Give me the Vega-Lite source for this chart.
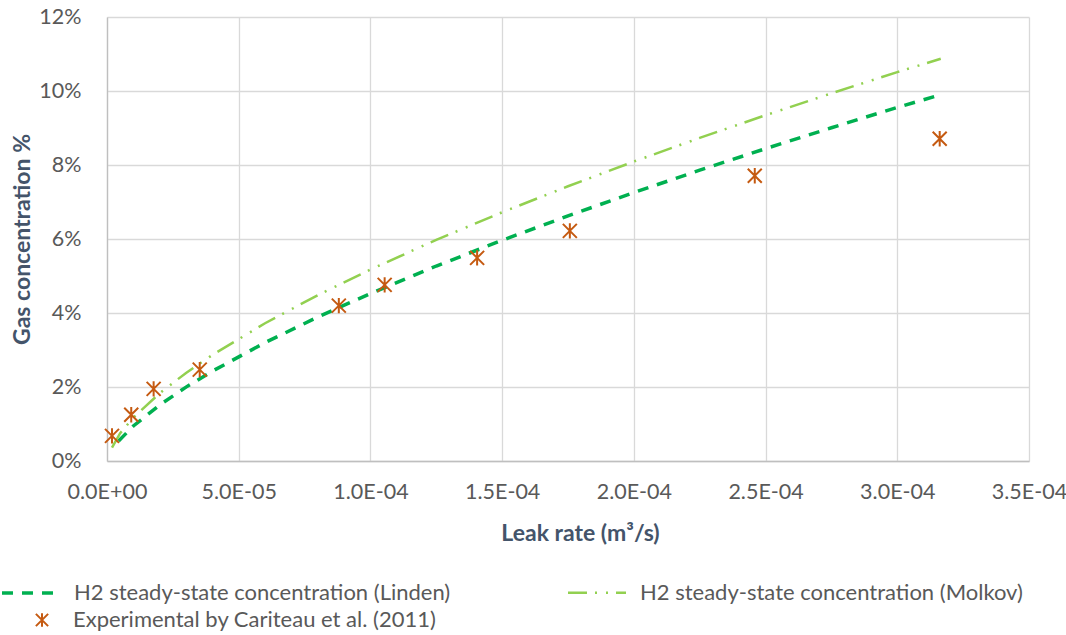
{
  "$schema": "https://vega.github.io/schema/vega-lite/v6.json",
  "width": 922,
  "height": 444,
  "autosize": "none",
  "padding": {"left": 107, "top": 17, "right": 37, "bottom": 174},
  "background": "white",
  "config": {
    "view": {"stroke": null},
    "font": "Lato",
    "axis": {
      "labelFont": "Lato", "labelFontSize": 21.5, "labelColor": "#595959", "labelFlush": false,
      "titleFont": "Lato", "titleFontSize": 23, "titleColor": "#44546A", "titleFontWeight": "bold",
      "gridColor": "#d9d9d9", "gridWidth": 1.3, "domainColor": "#bfbfbf", "domainWidth": 1.3, "ticks": false
    },
    "legend": {"labelFont": "Lato", "labelFontSize": 22, "labelColor": "#595959", "labelLimit": 700}
  },
  "datasets": {
    "lines": [
      {"series": "H2 steady-state concentration (Linden)", "x": 0.0000044, "y": 0.541},
      {"series": "H2 steady-state concentration (Linden)", "x": 0.00001, "y": 0.946},
      {"series": "H2 steady-state concentration (Linden)", "x": 0.00002, "y": 1.515},
      {"series": "H2 steady-state concentration (Linden)", "x": 0.00003, "y": 1.997},
      {"series": "H2 steady-state concentration (Linden)", "x": 0.00004, "y": 2.428},
      {"series": "H2 steady-state concentration (Linden)", "x": 0.00006, "y": 3.199},
      {"series": "H2 steady-state concentration (Linden)", "x": 0.00008, "y": 3.89},
      {"series": "H2 steady-state concentration (Linden)", "x": 0.0001, "y": 4.527},
      {"series": "H2 steady-state concentration (Linden)", "x": 0.000125, "y": 5.27},
      {"series": "H2 steady-state concentration (Linden)", "x": 0.00015, "y": 5.965},
      {"series": "H2 steady-state concentration (Linden)", "x": 0.000175, "y": 6.624},
      {"series": "H2 steady-state concentration (Linden)", "x": 0.0002, "y": 7.254},
      {"series": "H2 steady-state concentration (Linden)", "x": 0.000225, "y": 7.859},
      {"series": "H2 steady-state concentration (Linden)", "x": 0.00025, "y": 8.442},
      {"series": "H2 steady-state concentration (Linden)", "x": 0.000275, "y": 9.007},
      {"series": "H2 steady-state concentration (Linden)", "x": 0.0003, "y": 9.556},
      {"series": "H2 steady-state concentration (Linden)", "x": 0.0003165, "y": 9.9},
      {"series": "H2 steady-state concentration (Molkov)", "x": 0.0000019, "y": 0.36},
      {"series": "H2 steady-state concentration (Molkov)", "x": 0.000005, "y": 0.75},
      {"series": "H2 steady-state concentration (Molkov)", "x": 0.00001, "y": 1.172},
      {"series": "H2 steady-state concentration (Molkov)", "x": 0.00002, "y": 1.833},
      {"series": "H2 steady-state concentration (Molkov)", "x": 0.00003, "y": 2.381},
      {"series": "H2 steady-state concentration (Molkov)", "x": 0.00004, "y": 2.865},
      {"series": "H2 steady-state concentration (Molkov)", "x": 0.00006, "y": 3.723},
      {"series": "H2 steady-state concentration (Molkov)", "x": 0.00008, "y": 4.482},
      {"series": "H2 steady-state concentration (Molkov)", "x": 0.0001, "y": 5.175},
      {"series": "H2 steady-state concentration (Molkov)", "x": 0.000125, "y": 5.977},
      {"series": "H2 steady-state concentration (Molkov)", "x": 0.00015, "y": 6.722},
      {"series": "H2 steady-state concentration (Molkov)", "x": 0.000175, "y": 7.425},
      {"series": "H2 steady-state concentration (Molkov)", "x": 0.0002, "y": 8.093},
      {"series": "H2 steady-state concentration (Molkov)", "x": 0.000225, "y": 8.732},
      {"series": "H2 steady-state concentration (Molkov)", "x": 0.00025, "y": 9.346},
      {"series": "H2 steady-state concentration (Molkov)", "x": 0.000275, "y": 9.937},
      {"series": "H2 steady-state concentration (Molkov)", "x": 0.0003, "y": 10.511},
      {"series": "H2 steady-state concentration (Molkov)", "x": 0.0003165, "y": 10.87}
    ],
    "points": [
      {"source": "Experimental by Cariteau et al. (2011)", "x": 0.0000019, "y": 0.68},
      {"source": "Experimental by Cariteau et al. (2011)", "x": 0.0000092, "y": 1.25},
      {"source": "Experimental by Cariteau et al. (2011)", "x": 0.0000177, "y": 1.95},
      {"source": "Experimental by Cariteau et al. (2011)", "x": 0.0000352, "y": 2.47},
      {"source": "Experimental by Cariteau et al. (2011)", "x": 0.000088, "y": 4.2},
      {"source": "Experimental by Cariteau et al. (2011)", "x": 0.0001054, "y": 4.76},
      {"source": "Experimental by Cariteau et al. (2011)", "x": 0.0001405, "y": 5.49},
      {"source": "Experimental by Cariteau et al. (2011)", "x": 0.0001757, "y": 6.22},
      {"source": "Experimental by Cariteau et al. (2011)", "x": 0.0002459, "y": 7.71},
      {"source": "Experimental by Cariteau et al. (2011)", "x": 0.0003161, "y": 8.71}
    ]
  },
  "layer": [
    {
      "data": {"name": "lines"},
      "mark": {"type": "line", "clip": true},
      "encoding": {
        "x": {
          "field": "x", "type": "quantitative",
          "scale": {"domain": [0, 0.00035], "nice": false},
          "axis": {
            "values": [0, 0.00005, 0.0001, 0.00015, 0.0002, 0.00025, 0.0003, 0.00035],
            "labelExpr": "datum.value == 0 ? '0.0E+00' : (datum.value < 0.0000999 ? format(datum.value * 100000, '.1f') + 'E-05' : format(datum.value * 10000, '.1f') + 'E-04')",
            "labelPadding": 20,
            "title": "Leak rate (m³/s)",
            "titleX": 473, "titleY": 72, "titleAlign": "center", "titleBaseline": "middle"
          }
        },
        "y": {
          "field": "y", "type": "quantitative",
          "scale": {"domain": [0, 12], "nice": false},
          "axis": {
            "values": [0, 2, 4, 6, 8, 10, 12],
            "labelExpr": "datum.value + '%'",
            "labelPadding": 26,
            "title": "Gas concentration %",
            "titleX": -85, "titleY": 222, "titleAlign": "center", "titleBaseline": "middle", "titleAngle": -90
          }
        },
        "color": {
          "field": "series", "type": "nominal",
          "scale": {"domain": ["H2 steady-state concentration (Linden)", "H2 steady-state concentration (Molkov)"], "range": ["#00B050", "#92D050"]},
          "legend": {"title": null, "orient": "none", "legendX": -107, "legendY": 545, "direction": "horizontal", "columns": 2, "columnPadding": 112, "labelOffset": 12, "symbolType": "stroke", "symbolSize": 3364, "symbolStrokeWidth": 3}
        },
        "strokeDash": {
          "field": "series", "type": "nominal",
          "scale": {"domain": ["H2 steady-state concentration (Linden)", "H2 steady-state concentration (Molkov)"], "range": [[11, 9], [19, 8, 2, 9, 2, 8]]},
          "legend": {"title": null, "orient": "none", "legendX": -107, "legendY": 545, "direction": "horizontal", "columns": 2, "columnPadding": 112, "labelOffset": 12, "symbolType": "stroke", "symbolSize": 3364, "symbolStrokeWidth": 3}
        },
        "strokeWidth": {
          "field": "series", "type": "nominal",
          "scale": {"domain": ["H2 steady-state concentration (Linden)", "H2 steady-state concentration (Molkov)"], "range": [3.5, 2.5]},
          "legend": null
        }
      }
    },
    {
      "data": {"name": "points"},
      "mark": {"type": "point", "filled": false, "color": "#C55A11", "strokeWidth": 2, "size": 196, "opacity": 1},
      "encoding": {
        "x": {"field": "x", "type": "quantitative"},
        "y": {"field": "y", "type": "quantitative"},
        "shape": {
          "field": "source", "type": "nominal",
          "scale": {"range": ["M-1,-1L1,1M-1,1L1,-1M0,-1.1L0,1.1"]},
          "legend": {"title": null, "orient": "none", "legendX": -76, "legendY": 592, "labelOffset": 20, "symbolSize": 150, "symbolStrokeColor": "#C55A11", "symbolFillColor": "transparent", "symbolStrokeWidth": 2}
        }
      }
    }
  ]
}
